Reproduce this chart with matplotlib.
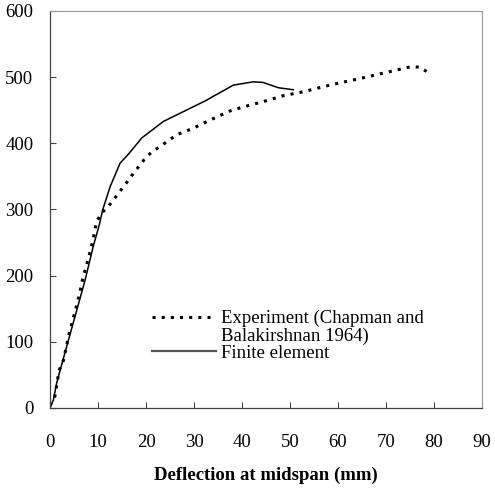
import matplotlib
matplotlib.use("Agg")
import matplotlib.pyplot as plt
from matplotlib.lines import Line2D

plt.rcParams['font.family'] = ['Liberation Serif', 'DejaVu Serif']

# deflection (mm) vs load
fe_x = [0, 0.7, 1.4, 3.1, 5.2, 7.3, 9.0, 10.2, 11.0, 12.5, 14.6, 16.5, 19.1,
        23.6, 27.8, 32.3, 38.2, 42.4, 44.4, 47.6, 50.7]
fe_y = [0, 12, 38, 83, 138, 193, 244, 275, 300, 334, 370, 385, 408,
        433, 448, 464, 488, 493, 492, 484, 481]

exp_x = [0, 1.0, 1.9, 2.8, 4.0, 5.0, 6.0, 6.9, 8.0, 8.9, 9.7, 10.8, 12.2,
         14.2, 15.6, 17.0, 18.4, 19.8, 21.2, 23.3, 26.4, 29.9, 33.3, 37.5,
         40.3, 44.4, 48.6, 52.8, 58.3, 64.6, 69.4, 72.9, 75.3, 77.1, 78.8]
exp_y = [4, 17, 57, 72, 113, 140, 168, 198, 226, 252, 282, 295, 305,
         324, 337, 351, 364, 377, 387, 397, 413, 423, 435, 449,
         455, 463, 472, 478, 488, 498, 506, 512, 516, 515, 507]

x_ticks = [0, 10, 20, 30, 40, 50, 60, 70, 80, 90]
y_ticks = [0, 100, 200, 300, 400, 500, 600]

fig = plt.figure(figsize=(4.95, 4.88), dpi=100)
ax = fig.add_axes([50 / 495, 80 / 488, 432 / 495, 397 / 488])

ax.plot(exp_x, exp_y, color='black', lw=2.2, linestyle=(0, (1, 2.0)))
ax.plot(fe_x, fe_y, color='black', lw=1.1)

ax.set_xlim(0, 90)
ax.set_ylim(0, 600)
ax.set_xticks(x_ticks)
ax.set_yticks(y_ticks)
ax.tick_params(direction='in', length=4, width=0.8, color='#444444',
               labelsize=13.5)
ax.tick_params(axis='x', pad=19)
ax.tick_params(axis='y', pad=12)
for side in ['left', 'bottom']:
    ax.spines[side].set_color('#444444')
    ax.spines[side].set_linewidth(0.9)
for side in ['top', 'right']:
    ax.spines[side].set_color('#999999')
    ax.spines[side].set_linewidth(0.8)

ax.set_xlabel('Deflection at midspan (mm)', fontsize=13.5, fontweight='bold',
              labelpad=11)

handles = [Line2D([], [], color='black', lw=2.2, linestyle=(0, (1, 2.0))),
           Line2D([], [], linestyle='none'),
           Line2D([], [], color='#555555', lw=1.6)]
labels = ['Experiment (Chapman and', 'Balakirshnan 1964)', 'Finite element']
ax.legend(handles, labels, loc='upper left', bbox_to_anchor=(0.236, 0.247),
          frameon=False, fontsize=13.5, handlelength=3.4, handletextpad=0.3,
          labelspacing=0.0, borderpad=0, borderaxespad=0)

fig.savefig('out.png', dpi=100)
